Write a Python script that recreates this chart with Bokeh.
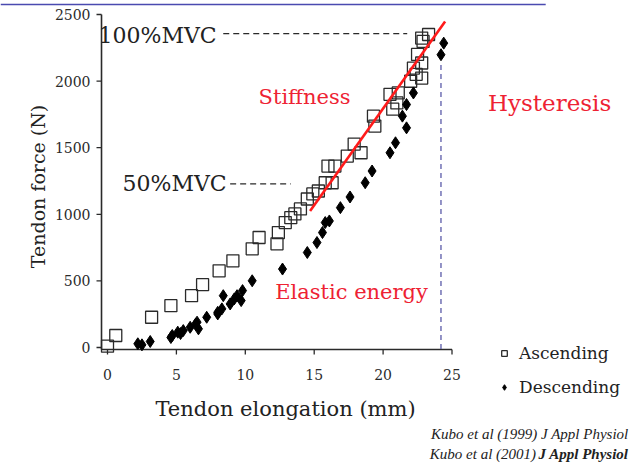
import math
from bokeh.plotting import figure
from bokeh.models import Label, Legend, LegendItem, Range1d
from bokeh.core.properties import value
from bokeh.embed import file_html
from bokeh.resources import INLINE

# ---- data ----
asc_x = [0.0, 0.6, 3.2, 4.6, 6.1, 6.9, 8.1, 9.1, 10.5, 11.0, 12.3, 12.4, 12.9, 13.3,
         13.6, 14.0, 14.5, 14.9, 15.3, 15.8, 16.3, 16.0, 16.5, 17.4, 17.9, 18.4, 19.3,
         19.4, 20.5, 20.7, 21.0, 21.1, 22.0, 22.4, 22.8, 22.2, 22.8, 22.5, 22.9, 23.3, 22.8]
asc_y = [10, 90, 227, 314, 389, 472, 576, 651, 741, 826, 778, 863, 938, 975,
         1003, 1040, 1115, 1153, 1175, 1237, 1237, 1362, 1362, 1437, 1527, 1462, 1737,
         1662, 1901, 1789, 1836, 1911, 1999, 2051, 2023, 2098, 2136, 2200, 2298, 2350, 2323]

desc_x = [2.2, 2.5, 3.1, 4.6, 4.7, 5.1, 5.3, 5.5, 6.0, 6.4, 6.5, 6.6, 7.2, 8.0, 8.0,
          8.3, 8.4, 8.9, 9.2, 9.4, 9.7, 9.8, 10.5, 12.7, 14.5, 15.2, 15.6, 15.8, 16.1,
          16.9, 17.6, 18.7, 19.2, 20.5, 20.9, 21.7, 21.4, 21.7, 22.2, 24.2, 24.4]
desc_y = [28, 20, 45, 75, 90, 115, 105, 127, 152, 177, 190, 140, 227, 252, 264,
          290, 389, 327, 365, 389, 352, 427, 501, 589, 713, 788, 863, 938, 950,
          1050, 1130, 1237, 1325, 1462, 1537, 1649, 1737, 1824, 1911, 2198, 2285]

stiff_x = [14.7, 24.5]
stiff_y = [1025, 2448]

mvc100_x = [8.4, 21.75]
mvc100_y = [2357, 2357]
mvc50_x = [8.9, 13.3]
mvc50_y = [1229, 1229]

hyst_x = [24.2, 24.2]
hyst_y = [2120, -15]

x_ticks = [0, 5, 10, 15, 20, 25]
y_ticks = [0, 500, 1000, 1500, 2000, 2500]
x_tick_labels = [str(t) for t in x_ticks]
y_tick_labels = [str(t) for t in y_ticks]

SERIF = "DejaVu Serif"
TIMES = "Liberation Serif"
INK = "#2a2a2a"

# frame covers the whole canvas; data->pixel scale matches the reference
p = figure(width=638, height=468, output_backend="svg", toolbar_location=None,
           x_range=Range1d(-7.765, 38.534), y_range=Range1d(-908.4, 2605.1),
           x_axis_type=None, y_axis_type=None, min_border=0)
p.outline_line_color = None
p.background_fill_color = "white"
p.border_fill_color = "white"

# ---- hand-drawn axes ----
X0 = -0.435      # y-axis position (data x)
Y0 = -15         # x-axis position (data y)
PX = 1 / 13.78   # one pixel in x data units
PY = 1 / 0.1332  # one pixel in y data units

p.segment(x0=[X0], y0=[Y0], x1=[X0], y1=[max(y_ticks)], line_color=INK, line_width=1.6)
p.segment(x0=[X0], y0=[Y0], x1=[max(x_ticks)], y1=[Y0], line_color=INK, line_width=1.6)
p.segment(x0=x_ticks, y0=[Y0] * len(x_ticks), x1=x_ticks, y1=[Y0 - 5 * PY] * len(x_ticks),
          line_color=INK, line_width=1.3)
p.segment(x0=[X0] * len(y_ticks), y0=y_ticks, x1=[X0 - 5 * PX] * len(y_ticks), y1=y_ticks,
          line_color=INK, line_width=1.3)
p.text(x=x_ticks, y=[Y0 - 25 * PY] * len(x_ticks), text=x_tick_labels,
       text_font=value(SERIF), text_font_size="14px", text_color=INK,
       text_align="center", text_baseline="middle")
p.text(x=[X0 - 11 * PX] * len(y_ticks), y=y_ticks, text=y_tick_labels,
       text_font=value(SERIF), text_font_size="14px", text_color=INK,
       text_align="right", text_baseline="middle")

# reference lines
p.line(mvc100_x, mvc100_y, line_color=INK, line_width=1.3, line_dash="6 4")
p.line(mvc50_x, mvc50_y, line_color=INK, line_width=1.3, line_dash="6 4")
p.line(hyst_x, hyst_y, line_color="#5a5aa8", line_width=1.3, line_dash="5 4")

r_asc = p.scatter(asc_x, asc_y, marker="square", size=12, fill_color="white",
                  fill_alpha=0.0, line_color=INK, line_width=1.3)
r_desc = p.scatter(desc_x, desc_y, marker="diamond", size=12, fill_color="black",
                   line_color="black")

p.line(stiff_x, stiff_y, line_color="#ff1a1a", line_width=2.6)

# top link underline (cut-off header of the source slide)
p.segment(x0=[-7.765], y0=[2575], x1=[31.8], y1=[2575], line_color="#4a4ab0", line_width=1.5)

red = "#ee2233"
labels = [
    Label(x=-5.01, y=1209, text="Tendon force (N)", angle=math.pi / 2, text_font=SERIF,
          text_font_size="19px", text_color="#222222", text_baseline="middle",
          text_align="center"),
    Label(x=12.92, y=-458, text="Tendon elongation (mm)", text_font=SERIF,
          text_font_size="21px", text_color="#222222", text_baseline="middle",
          text_align="center"),
    Label(x=-0.65, y=2342, text="100%MVC", text_font=SERIF, text_font_size="22px",
          text_color="#222222", text_baseline="middle", text_align="left"),
    Label(x=1.09, y=1231, text="50%MVC", text_font=SERIF, text_font_size="22px",
          text_color="#222222", text_baseline="middle", text_align="left"),
    Label(x=14.3, y=1877, text="Stiffness", text_font=SERIF, text_font_size="21px",
          text_color=red, text_baseline="middle", text_align="center"),
    Label(x=17.71, y=413, text="Elastic energy", text_font=SERIF, text_font_size="21px",
          text_color=red, text_baseline="middle", text_align="center"),
    Label(x=32.08, y=1832, text="Hysteresis", text_font=SERIF, text_font_size="23px",
          text_color=red, text_baseline="middle", text_align="center"),
    Label(x=37.81, y=-646, text="Kubo et al (1999) J Appl Physiol", text_font=TIMES,
          text_font_size="15px", text_font_style="italic", text_color="#222222",
          text_baseline="middle", text_align="right"),
    Label(x=37.81, y=-796, text="J Appl Physiol", text_font=TIMES,
          text_font_size="15px", text_font_style="bold italic", text_color="#222222",
          text_baseline="middle", text_align="right"),
    Label(x=31.1, y=-796, text="Kubo et al (2001)", text_font=TIMES,
          text_font_size="15px", text_font_style="italic", text_color="#222222",
          text_baseline="middle", text_align="right"),
]
for lb in labels:
    p.add_layout(lb)

legend = Legend(items=[LegendItem(label="Ascending", renderers=[r_asc]),
                       LegendItem(label="Descending", renderers=[r_desc])],
                location=(497, 71), orientation="vertical",
                border_line_color=None, background_fill_alpha=0.0,
                label_text_font=SERIF, label_text_font_size="17px",
                label_text_color="#222222", glyph_width=14, glyph_height=20,
                label_height=20, spacing=14, padding=0, margin=0,
                label_standoff=8)
p.add_layout(legend, "center")

open("out.html", "w").write(file_html(p, INLINE))
